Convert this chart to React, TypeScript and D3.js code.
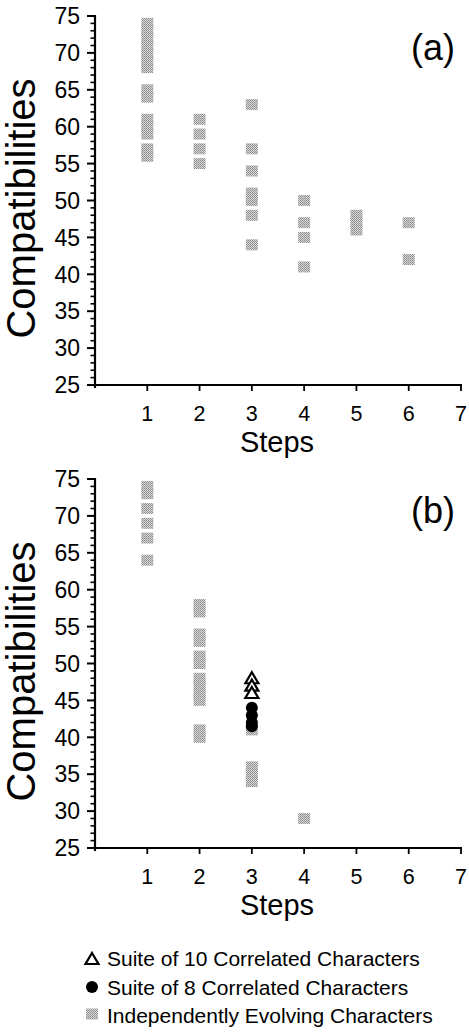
import React from "react";
import * as d3 from "d3";

// ---- Data ----
const stepTicks = [1, 2, 3, 4, 5, 6, 7];
const yMajorTicks = [25, 30, 35, 40, 45, 50, 55, 60, 65, 70, 75];

// Panel (a): independently evolving characters
const aSteps = [
  1, 1, 1, 1, 1, 1, 1, 1, 1, 1, 1, 1, 1, 1,
  2, 2, 2, 2,
  3, 3, 3, 3, 3, 3, 3,
  4, 4, 4, 4,
  5, 5, 5,
  6, 6,
];
const aCompat = [
  74, 73, 72, 71, 70, 69, 68, 65, 64, 61, 60, 59, 57, 56,
  61, 59, 57, 55,
  63, 57, 54, 51, 50, 48, 44,
  50, 47, 45, 41,
  48, 47, 46,
  47, 42,
];

// Panel (b): independently evolving characters
const bSteps = [
  1, 1, 1, 1, 1, 1,
  2, 2, 2, 2, 2, 2, 2, 2, 2, 2, 2, 2,
  3, 3, 3, 3,
  4,
];
const bCompat = [
  74, 73, 71, 69, 67, 64,
  58, 57, 54, 53, 51, 50, 48, 47, 46, 45, 41, 40,
  41, 36, 35, 34,
  29,
];

// Panel (b): suite of 10 correlated characters (triangles)
const tri10Steps = [3, 3, 3];
const tri10Compat = [48, 47, 46];

// Panel (b): suite of 8 correlated characters (filled circles)
const circ8Steps = [3, 3, 3, 3];
const circ8Compat = [44, 43, 42, 41.5];

const legendLabels = [
  "Suite of 10 Correlated Characters",
  "Suite of 8 Correlated Characters",
  "Independently Evolving Characters",
];

const FONT = "'Liberation Sans', Arial, Helvetica, sans-serif";

const x = d3.scaleLinear().domain([0, 7]).range([95, 461]);

function Square({ cx, cy }: { cx: number; cy: number }) {
  return (
    <rect x={cx - 6} y={cy - 5.5} width={12} height={11} fill="url(#dither)" />
  );
}

function Triangle({ cx, cy }: { cx: number; cy: number }) {
  const p = d3.path();
  p.moveTo(cx, cy - 6);
  p.lineTo(cx + 6.5, cy + 5);
  p.lineTo(cx - 6.5, cy + 5);
  p.closePath();
  return <path d={p.toString()} fill="white" stroke="black" strokeWidth={2.2} />;
}

function Panel({
  top,
  bottom,
  tag,
  steps,
  compat,
  extra,
}: {
  top: number;
  bottom: number;
  tag: string;
  steps: number[];
  compat: number[];
  extra?: (y: d3.ScaleLinear<number, number>) => React.ReactNode;
}) {
  const y = d3.scaleLinear().domain([25, 75]).range([bottom, top]);
  const minor = d3.range(25, 76, 1);
  const x0 = x(0);
  return (
    <g>
      {/* y axis */}
      <line x1={x0} x2={x0} y1={y(75) - 1} y2={y(25) + 3} stroke="black" strokeWidth={2.2} />
      {minor.map((v) => (
        <line
          key={"m" + v}
          x1={x0 - (v % 5 === 0 ? 8 : 4.5)}
          x2={x0 + 0.5}
          y1={y(v)}
          y2={y(v)}
          stroke="black"
          strokeWidth={v % 5 === 0 ? 2 : 1.6}
        />
      ))}
      {yMajorTicks.map((v) => (
        <text
          key={"yl" + v}
          x={80}
          y={y(v)}
          dy="0.36em"
          textAnchor="end"
          fontSize={23}
          fontFamily={FONT}
        >
          {v}
        </text>
      ))}
      {/* x axis */}
      <line x1={x0} x2={x(7) + 1} y1={y(25)} y2={y(25)} stroke="black" strokeWidth={2.2} />
      {stepTicks.map((s) => (
        <g key={"xt" + s}>
          <line x1={x(s)} x2={x(s)} y1={y(25)} y2={y(25) + 6} stroke="black" strokeWidth={1.8} />
          <text
            x={x(s)}
            y={y(25) + 36}
            textAnchor="middle"
            fontSize={21.5}
            fontFamily={FONT}
          >
            {s}
          </text>
        </g>
      ))}
      <text
        x={277}
        y={y(25) + 67}
        textAnchor="middle"
        fontSize={29}
        fontFamily={FONT}
      >
        Steps
      </text>
      <text
        transform={`translate(35,${(y(25) + y(75)) / 2 + 8}) rotate(-90)`}
        textAnchor="middle"
        fontSize={40}
        fontFamily={FONT}
      >
        Compatibilities
      </text>
      <text x={433} y={top + 44} textAnchor="middle" fontSize={36} fontFamily={FONT}>
        {tag}
      </text>
      {/* points */}
      {steps.map((s, i) => (
        <Square key={"p" + i} cx={x(s)} cy={y(compat[i])} />
      ))}
      {extra ? extra(y) : null}
    </g>
  );
}

export default function App() {
  return (
    <svg
      width={469}
      height={1032}
      style={{ position: "absolute", left: 0, top: 0, background: "white" }}
    >
      <defs>
        <pattern id="dither" width={2} height={2} patternUnits="userSpaceOnUse">
          <rect width={2} height={2} fill="#d8d8d8" />
          <rect width={1} height={1} fill="#8a8a8a" />
          <rect x={1} y={1} width={1} height={1} fill="#9a9a9a" />
        </pattern>
      </defs>
      <Panel top={16} bottom={385} tag="(a)" steps={aSteps} compat={aCompat} />
      <Panel
        top={479}
        bottom={848}
        tag="(b)"
        steps={bSteps}
        compat={bCompat}
        extra={(y) => (
          <g>
            {circ8Steps.map((s, i) => (
              <circle key={"c" + i} cx={x(s)} cy={y(circ8Compat[i])} r={6} fill="black" />
            ))}
            {tri10Steps.map((s, i) => (
              <Triangle key={"t" + i} cx={x(s)} cy={y(tri10Compat[i])} />
            ))}
          </g>
        )}
      />
      {/* legend */}
      <g>
        <Triangle cx={92} cy={959} />
        <circle cx={92} cy={987} r={6} fill="black" />
        <Square cx={92} cy={1014} />
        {legendLabels.map((t, i) => (
          <text key={t} x={107} y={966 + i * 28.5} fontSize={21} fontFamily={FONT}>
            {t}
          </text>
        ))}
      </g>
    </svg>
  );
}
